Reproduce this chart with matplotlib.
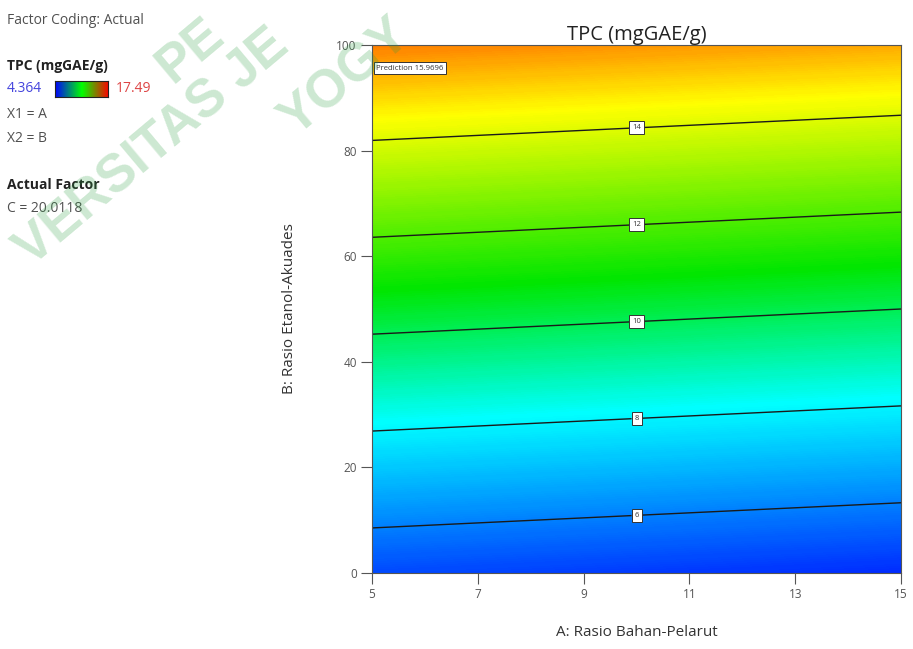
import matplotlib.pyplot as plt
import numpy as np
from matplotlib.colors import LinearSegmentedColormap

plt.rcParams["font.family"] = ["Open Sans", "DejaVu Sans"]

# factor grid (A = Rasio Bahan-Pelarut, B = Rasio Etanol-Akuades)
A_VALS = [5, 15]
B_VALS = [0, 20, 40, 60, 80, 100]
# TPC at the grid points, columns A=5 and A=15
TPC_A5 = [5.07, 7.25, 9.43, 11.61, 13.79, 15.97]
TPC_A15 = [4.55, 6.73, 8.91, 11.09, 13.27, 15.45]
LEVELS = [6, 8, 10, 12, 14]
TPC_MIN = 4.364
TPC_MAX = 17.49
X_TICKS = [5, 7, 9, 11, 13, 15]
Y_TICKS = [0, 20, 40, 60, 80, 100]

W, H = 913, 649
fig = plt.figure(figsize=(W / 100, H / 100), dpi=100)


def fx(px):
    return px / W


def fy(py):
    return 1 - py / H


ax = fig.add_axes([fx(372), fy(573), fx(901) - fx(372), fy(45) - fy(573)])

de_cmap = LinearSegmentedColormap.from_list(
    "de", [(0.0, "#0020ff"), (0.29, "#00ffff"), (0.5, "#00e600"),
           (0.77, "#ffff00"), (1.0, "#ff0000")])

Z = np.column_stack([TPC_A5, TPC_A15])
AA, BB = np.meshgrid(A_VALS, B_VALS)
cf = ax.contourf(AA, BB, Z, levels=np.linspace(TPC_MIN, TPC_MAX, 300),
                 cmap=de_cmap, vmin=TPC_MIN, vmax=TPC_MAX)
cf.set_edgecolor("face")
cf.set_linewidth(0.4)

cs = ax.contour(AA, BB, Z, levels=LEVELS, colors="#1a1a1a", linewidths=1.0)
label_pos = [(10, 11.9), (10, 30.3), (10, 48.5), (10, 66.9), (10, 85.0)]
labels = ax.clabel(cs, fmt="%d", fontsize=5.5, inline=True,
                   inline_spacing=3, manual=label_pos)
for t in labels:
    t.set_rotation(0)
    t.set_color("#333333")
    t.set_bbox(dict(boxstyle="square,pad=0.4", facecolor="white",
                    edgecolor="#333333", linewidth=0.7))

ax.text(5.08, 95.6, "Prediction 15.9696", fontsize=5.6, color="#333333",
        va="center", ha="left",
        bbox=dict(boxstyle="square,pad=0.3", facecolor="white",
                  edgecolor="#333333", linewidth=0.7))

ax.set_xlim(5, 15)
ax.set_ylim(0, 100)
ax.set_xticks(X_TICKS)
ax.set_yticks(Y_TICKS)
ax.tick_params(direction="out", length=8, width=0.8, color="#555555",
               labelsize=8.5, labelcolor="#555555", pad=3)
for s in ax.spines.values():
    s.set_color("#555555")
    s.set_linewidth(0.8)

ax.set_title("TPC (mgGAE/g)", fontsize=14.5, color="#222222", pad=1)
ax.set_xlabel("A: Rasio Bahan-Pelarut", fontsize=11, color="#333333",
              labelpad=17)
ax.set_ylabel("B: Rasio Etanol-Akuades", fontsize=11, color="#333333",
              labelpad=28)

# left-hand info panel
info = dict(fontsize=10, color="#505050", va="center", ha="left")
fig.text(fx(7), fy(21), "Factor Coding: Actual", **info)
fig.text(fx(7), fy(66), "TPC (mgGAE/g)", fontsize=10, color="#222222",
         fontweight="bold", va="center", ha="left")
fig.text(fx(7), fy(89), "4.364", fontsize=10, color="#4444dd",
         va="center", ha="left")
fig.text(fx(116), fy(89), "17.49", fontsize=10, color="#dd4444",
         va="center", ha="left")
fig.text(fx(7), fy(114), "X1 = A", **info)
fig.text(fx(7), fy(139), "X2 = B", **info)
fig.text(fx(7), fy(185), "Actual Factor", fontsize=10, color="#222222",
         fontweight="bold", va="center", ha="left")
fig.text(fx(7), fy(209), "C = 20.0118", **info)

cax = fig.add_axes([fx(55), fy(97), fx(108) - fx(55), fy(81) - fy(97)])
legend_cmap = LinearSegmentedColormap.from_list(
    "leg", ["#0000ff", "#00ff00", "#ff0000"])
cax.imshow(np.linspace(0, 1, 256)[None, :], cmap=legend_cmap, aspect="auto")
cax.set_xticks([])
cax.set_yticks([])
for s in cax.spines.values():
    s.set_color("#222222")
    s.set_linewidth(0.8)

# faint library watermark (only the parts visible in the frame)
wm = dict(fontsize=38, fontweight="bold", family="Liberation Sans",
          color="#2ea043", alpha=0.24, rotation=40, rotation_mode="anchor",
          ha="left", va="baseline", zorder=10)
fig.text(fx(172), fy(84), "PE", **wm)
fig.text(fx(32), fy(268), "VERSITAS JE", **wm)
fig.text(fx(296), fy(138), "YOGY", **wm)

fig.savefig("out.png", dpi=100)
